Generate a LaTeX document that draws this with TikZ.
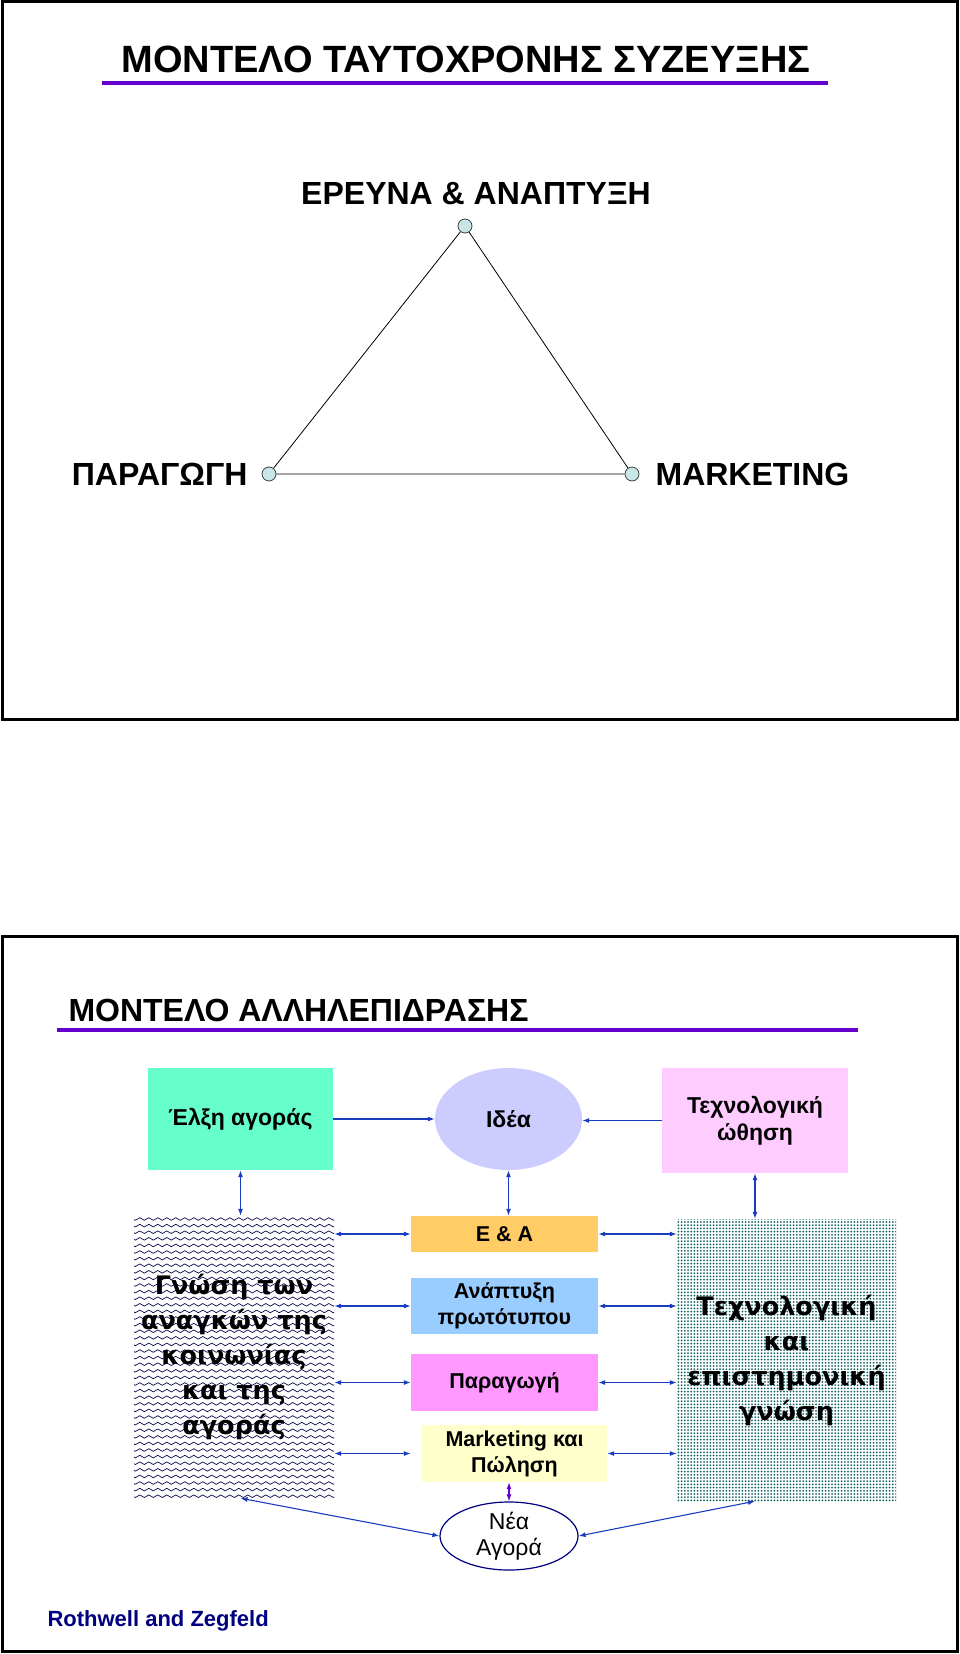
\documentclass[tikz,border=0pt]{standalone}
\usepackage{fontspec}
\setmainfont{Liberation Sans}
\newfontfamily\knowfont{DejaVu Sans}
\usetikzlibrary{positioning,arrows.meta,shapes.geometric,patterns.meta,decorations.pathmorphing}
\definecolor{linkblue}{RGB}{25,60,190}
\definecolor{rulepurple}{RGB}{102,0,204}
\definecolor{vertexcyan}{RGB}{200,230,232}
\definecolor{pullgreen}{RGB}{102,255,204}
\definecolor{idealilac}{RGB}{204,204,255}
\definecolor{pushpink}{RGB}{255,204,255}
\definecolor{eaorange}{RGB}{255,204,102}
\definecolor{protoblue}{RGB}{153,204,255}
\definecolor{prodmagenta}{RGB}{255,153,255}
\definecolor{mktyellow}{RGB}{255,255,204}
\definecolor{wavenavy}{RGB}{10,10,80}
\definecolor{dotteal}{RGB}{20,100,100}
\definecolor{citenavy}{RGB}{0,0,128}
\tikzdeclarepattern{
  name=knowdots,
  type=uncolored,
  bottom left={(-1.2pt,-1.2pt)},
  top right={(1.2pt,1.2pt)},
  tile size={(3.2pt,3.2pt)},
  code={\fill (0pt,0pt) circle [radius=1pt];}
}
\tikzset{
  frame/.style  = {draw=black, line width=3pt},
  rule/.style   = {draw=rulepurple, line width=4pt},
  vertex/.style = {circle, draw=black!75, fill=vertexcyan, line width=0.8pt,
                   minimum size=14pt, inner sep=0pt},
  corner/.style = {font=\bfseries\fontsize{32}{38}\selectfont, inner sep=0pt},
  box/.style    = {rectangle, inner sep=2pt, align=center,
                   font=\bfseries\fontsize{21.5}{26}\selectfont},
  toprow/.style = {box, font=\bfseries\fontsize{23}{27}\selectfont, minimum height=102pt},
  arr/.style    = {<->, draw=linkblue, line width=1.1pt},
  oneway/.style = {->, draw=linkblue, line width=1.1pt},
  wavefill/.style = {path picture={
      \foreach \row in {0,...,44}
        \draw[wavenavy, line width=0.7pt, decorate,
              decoration={snake, segment length=9pt, amplitude=1.3pt}]
          ([xshift=-6pt, yshift=-3pt-\row*6.6pt]path picture bounding box.north west)
            -- ++(215pt,0pt);
    }}
}

\begin{document}
\begin{tikzpicture}[
  x=1pt, y=-1pt,
  >={Latex[length=7pt,width=5pt]},
  midrow/.style = {box, minimum width=187pt},
  wide/.style   = {rectangle, minimum width=200pt, minimum height=282pt, align=center,
                   font=\knowfont\bfseries\fontsize{25.5}{35}\selectfont}
]
  \useasboundingbox (0,0) rectangle (960,1654);

  % upper slide
  \draw[frame] (2,2) rectangle (957,719);
  \node[font=\bfseries\fontsize{38}{44}\selectfont, anchor=base] (title1) at (466,73)
    {ΜΟΝΤΕΛΟ ΤΑΥΤΟΧΡΟΝΗΣ ΣΥΖΕΥΞΗΣ};
  \draw[rule] (102,83) -- (828,83);

  \node[vertex] (rd)  at (465,226) {};
  \node[vertex] (pro) at (269,474) {};
  \node[vertex] (mk)  at (632,474) {};
  \draw[line width=0.8pt] (rd) -- (pro) -- (mk) -- (rd);

  \node[corner, above=14pt of rd, xshift=11pt] (rdlab) {ΕΡΕΥΝΑ \& ΑΝΑΠΤΥΞΗ};
  \node[corner, left=14pt of pro] (prolab) {ΠΑΡΑΓΩΓΗ};
  \node[corner, right=16pt of mk] (mklab) {MARKETING};

  % lower slide
  \draw[frame] (2,936) rectangle (957,1651);
  \node[font=\bfseries\fontsize{32}{38}\selectfont, anchor=base west] (title2) at (65,1021)
    {ΜΟΝΤΕΛΟ ΑΛΛΗΛΕΠΙΔΡΑΣΗΣ};
  \draw[rule] (57,1030) -- (858,1030);

  \node[toprow, fill=pullgreen, minimum width=185pt] (pull) at (240.5,1119) {Έλξη αγοράς};
  \node[ellipse, fill=idealilac, minimum width=147pt, minimum height=102pt,
        font=\bfseries\fontsize{23}{27}\selectfont] (idea) at (508.5,1119) {Ιδέα};
  \node[toprow, fill=pushpink, minimum width=186pt, minimum height=105pt] (push)
    at (755,1120.5) {Τεχνολογική\\ώθηση};

  \node[wide, wavefill] (needs) at (234,1357)
    {Γνώση των\\αναγκών της\\κοινωνίας\\και της\\αγοράς};
  \node[midrow, fill=eaorange, minimum height=36pt] (ea) at (504.5,1234) {Ε \& Α};
  \node[midrow, fill=protoblue, minimum height=56pt] (proto) at (504.5,1306)
    {Ανάπτυξη\\πρωτότυπου};
  \node[midrow, fill=prodmagenta, minimum height=57pt] (prod) at (504.5,1382.5) {Παραγωγή};
  \node[midrow, fill=mktyellow, minimum width=185pt, minimum height=57pt] (mkt)
    at (514.5,1453.5) {Marketing και\\Πώληση};
  \node[wide, minimum width=219pt, pattern=knowdots, pattern color=dotteal] (know)
    at (786.5,1360) {Τεχνολογική\\και\\επιστημονική\\γνώση};

  \node[ellipse, draw=citenavy, line width=1.2pt, minimum width=138pt, minimum height=66pt,
        inner sep=0pt, align=center, font=\fontsize{23}{26}\selectfont] (newmkt)
    at (509,1536) {Νέα\\Αγορά};

  \node[anchor=base west, text=citenavy, font=\bfseries\fontsize{22}{26}\selectfont] (cite)
    at (44,1626) {Rothwell and Zegfeld};

  % links
  \draw[oneway] (pull.east) -- (idea.west);
  \draw[oneway] (push.west) -- (push.west -| idea.east);
  \draw[arr] (pull.south) -- (pull.south |- needs.north);
  \draw[arr] (idea.south) -- (idea.south |- ea.north);
  \draw[arr] (push.south) -- (push.south |- know.north);

  \draw[arr] (ea.west -| needs.east) -- (ea.west);
  \draw[arr] (proto.west -| needs.east) -- (proto.west);
  \draw[arr] (prod.west -| needs.east) -- (prod.west);
  \draw[arr] (mkt.west -| needs.east) -- (mkt.west -| ea.west);

  \draw[arr] (ea.east) -- (ea.east -| know.west);
  \draw[arr] (proto.east) -- (proto.east -| know.west);
  \draw[arr] (prod.east) -- (prod.east -| know.west);
  \draw[arr] (mkt.east) -- (mkt.east -| know.west);

  \draw[arr, draw=rulepurple] (newmkt.north |- mkt.south) -- (newmkt.north);
  \draw[arr] (pull.south |- needs.south) -- (newmkt.west);
  \draw[arr] (push.south |- know.south) -- (newmkt.east);
\end{tikzpicture}
\end{document}
